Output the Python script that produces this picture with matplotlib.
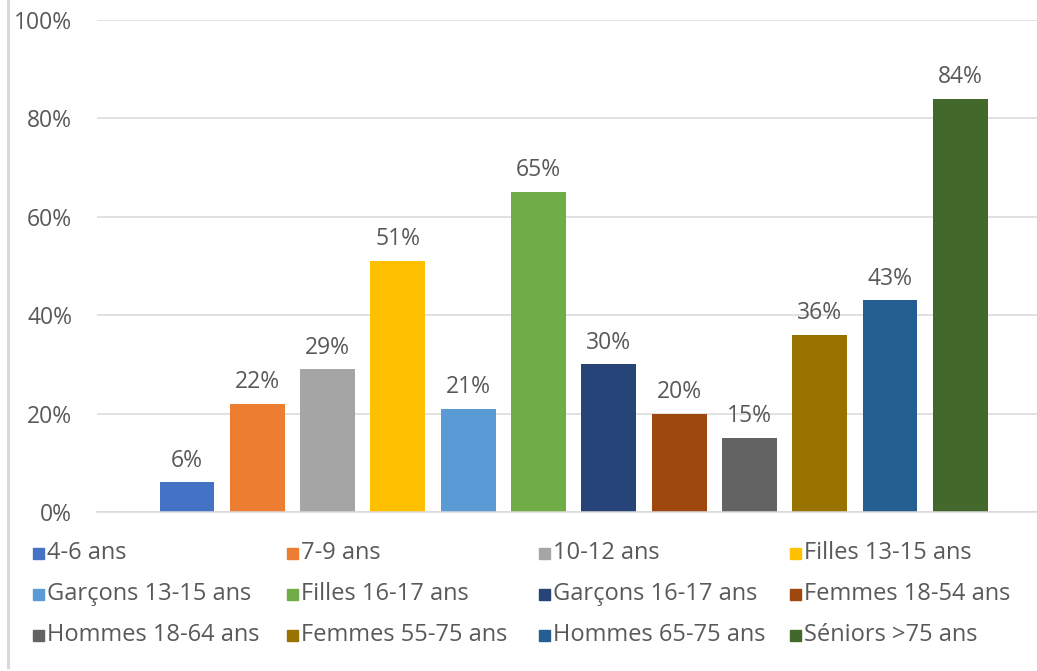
import matplotlib
matplotlib.use("Agg")
import matplotlib.pyplot as plt
from matplotlib.lines import Line2D
from matplotlib.patches import Rectangle

plt.rcParams['font.family'] = ['Open Sans', 'DejaVu Sans']

# data
groups = ["4-6 ans", "7-9 ans", "10-12 ans", "Filles 13-15 ans",
          "Garçons 13-15 ans", "Filles 16-17 ans", "Garçons 16-17 ans", "Femmes 18-54 ans",
          "Hommes 18-64 ans", "Femmes 55-75 ans", "Hommes 65-75 ans", "Séniors >75 ans"]
values = [6, 22, 29, 51, 21, 65, 30, 20, 15, 36, 43, 84]
colors = ["#4472C4", "#ED7D31", "#A5A5A5", "#FFC000",
          "#5B9BD5", "#70AD47", "#264478", "#9E480E",
          "#636363", "#997300", "#255E91", "#43682B"]
yticks = [0, 20, 40, 60, 80, 100]

W, H = 1037, 671
fig = plt.figure(figsize=(W / 100, H / 100), dpi=100)
ax = fig.add_axes([97 / W, 1 - 512 / H, 1 - 97 / W, (512 - 20) / H])

text_col = "#595959"
grid_col = "#D9D9D9"
fs = 16.5

for i, (g, v, c) in enumerate(zip(groups, values, colors)):
    b = ax.bar(i, v, width=0.78, color=c, zorder=3)
    ax.bar_label(b, labels=[f"{v}%"], padding=7, fontsize=fs, color=text_col)

ax.set_xlim(-1.28, 12.09)
ax.set_ylim(0, 100)
ax.set_yticks(yticks)
ax.set_yticklabels([f"{t}%" for t in yticks], fontsize=fs, color=text_col)
ax.tick_params(axis='y', length=0, pad=18)
ax.set_xticks([])
ax.grid(axis='y', color=grid_col, linewidth=1.1, zorder=0)
for s in ["top", "right", "left"]:
    ax.spines[s].set_visible(False)
ax.spines["bottom"].set_color(grid_col)
ax.spines["bottom"].set_linewidth(1.1)
ax.spines["bottom"].set_zorder(4)

# legend laid out row by row like the Excel one
col_x = [33, 287, 539, 790]
row_y = [553, 594, 635]
sq = 11
for i, (g, c) in enumerate(zip(groups, colors)):
    r, k = divmod(i, 4)
    x0, y0 = col_x[k], row_y[r]
    fig.patches.append(Rectangle((x0 / W, 1 - (y0 + sq / 2) / H), sq / W, sq / H,
                                 transform=fig.transFigure, color=c))
    fig.text((x0 + sq + 3) / W, 1 - y0 / H, g, fontsize=17, color=text_col,
             va='center', ha='left')

# chart frame edge on the left
fig.lines.append(Line2D([8 / W, 8 / W], [1 - 667 / H, 1], transform=fig.transFigure,
                        color=grid_col, linewidth=2.2))

fig.savefig("out.png", dpi=100)
